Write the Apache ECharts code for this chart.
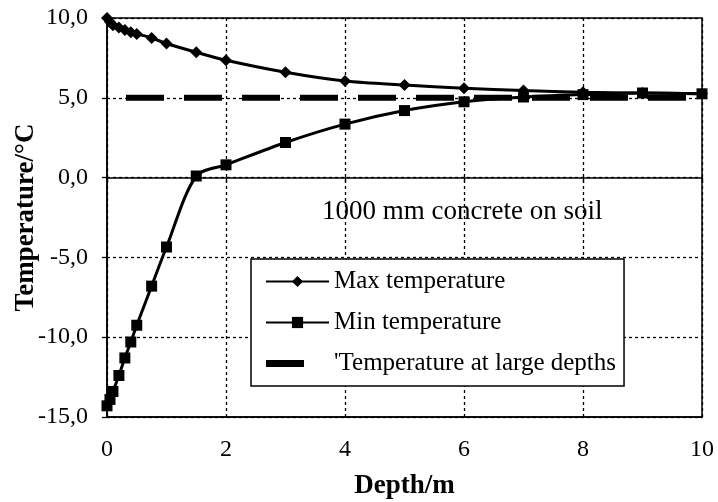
<!DOCTYPE html>
<html>
<head>
<meta charset="utf-8">
<script src="https://cdn.jsdelivr.net/npm/echarts@6/dist/echarts.min.js"></script>
<style>
html,body{margin:0;padding:0;background:#fff;}
#chart{width:718px;height:502px;}
</style>
</head>
<body>
<div id="chart"></div>
<script>
const depth = [0, 0.05, 0.1, 0.2, 0.3, 0.4, 0.5, 0.75, 1, 1.5, 2, 3, 4, 5, 6, 7, 8, 9, 10];
const maxTemp = [10.0, 9.75, 9.55, 9.4, 9.25, 9.1, 9.0, 8.75, 8.4, 7.85, 7.35, 6.6, 6.05, 5.8, 5.6, 5.45, 5.35, 5.3, 5.25];
const minTemp = [-14.3, -13.9, -13.4, -12.4, -11.3, -10.3, -9.25, -6.8, -4.35, 0.1, 0.8, 2.2, 3.35, 4.2, 4.75, 5.05, 5.2, 5.3, 5.25];
const largeDepthX = [0, 10];
const largeDepthT = [5.0, 5.0];
const seriesNames = ['Max temperature', 'Min temperature', "'Temperature at large depths"];
const annotation = '1000 mm concrete on soil';
const xTitle = 'Depth/m';
const yTitle = 'Temperature/\u00B0C';

const FONT = "'Liberation Serif', 'Times New Roman', serif";
const pair = (xs, ys) => xs.map((x, i) => [x, ys[i]]);

const chart = echarts.init(document.getElementById('chart'), null, {renderer: 'canvas'});
chart.setOption({
  animation: false,
  backgroundColor: '#fff',
  textStyle: {fontFamily: FONT, color: '#000'},
  grid: {left: 107, right: 16, top: 18, bottom: 85, show: true, borderColor: '#000', borderWidth: 1.5,
    containLabel: false, outerBoundsMode: 'none'},
  xAxis: [{
    type: 'value', min: 0, max: 10, interval: 2, position: 'bottom',
    axisLine: {show: true, onZero: false, lineStyle: {color: '#000', width: 1.5}},
    axisTick: {show: false},
    axisLabel: {margin: 21, fontFamily: FONT, fontSize: 24, color: '#000'},
    splitLine: {show: true, lineStyle: {color: '#000', width: 1.3, type: [3, 3]}},
    name: xTitle, nameLocation: 'middle', nameGap: 56, nameMoveOverlap: false,
    nameTextStyle: {fontFamily: FONT, fontSize: 27, fontWeight: 'bold', color: '#000'}
  }, {
    type: 'value', min: 0, max: 10, interval: 2, position: 'bottom',
    axisLine: {show: true, onZero: true, lineStyle: {color: '#000', width: 1.5}},
    axisTick: {show: true, length: 5, lineStyle: {color: '#000', width: 1.3}},
    axisLabel: {show: false},
    splitLine: {show: false}
  }],
  yAxis: {
    type: 'value', min: -15, max: 10, interval: 5,
    axisLine: {show: true, onZero: false, lineStyle: {color: '#000', width: 1.5}},
    axisTick: {show: true, length: 5, lineStyle: {color: '#000', width: 1.3}},
    axisLabel: {margin: 19, fontFamily: FONT, fontSize: 24, color: '#000',
      formatter: v => v.toFixed(1).replace('.', ',')},
    splitLine: {show: true, lineStyle: {color: '#000', width: 1.3, type: [3, 3]}},
    name: yTitle, nameLocation: 'middle', nameGap: 67, nameRotate: 90, nameMoveOverlap: false,
    nameTextStyle: {fontFamily: FONT, fontSize: 27, fontWeight: 'bold', color: '#000'}
  },
  legend: {
    orient: 'vertical', left: 251, top: 259,
    padding: [10, 8, 10, 14],
    itemWidth: 63, itemHeight: 14, itemGap: 16,
    backgroundColor: '#fff', borderColor: '#000', borderWidth: 1.5,
    textStyle: {fontFamily: FONT, fontSize: 25, color: '#000', lineHeight: 25},
    data: [
      {name: seriesNames[0]},
      {name: seriesNames[1]},
      {name: seriesNames[2], icon: 'path://M0,3.5L38,3.5L38,10.5L0,10.5Z M63,0L63,0 M63,14L63,14'}
    ]
  },
  graphic: [{
    type: 'text', left: 322, top: 198,
    style: {text: annotation, fontFamily: FONT, fontSize: 27, fill: '#000'}
  }],
  series: [{
    name: seriesNames[0], type: 'line', data: pair(depth, maxTemp),
    smooth: 0.3, symbol: 'diamond', symbolSize: 12, showSymbol: true,
    lineStyle: {color: '#000', width: 3}, itemStyle: {color: '#000'}, z: 3
  }, {
    name: seriesNames[1], type: 'line', data: pair(depth, minTemp),
    smooth: 0.3, symbol: 'rect', symbolSize: 11, showSymbol: true,
    lineStyle: {color: '#000', width: 3}, itemStyle: {color: '#000'}, z: 3
  }, {
    name: seriesNames[2], type: 'line', data: pair(largeDepthX, largeDepthT),
    symbol: 'none',
    lineStyle: {color: '#000', width: 6, type: [38, 20], dashOffset: 39, cap: 'butt'},
    itemStyle: {color: '#000'}, z: 4
  }]
});
</script>
</body>
</html>
